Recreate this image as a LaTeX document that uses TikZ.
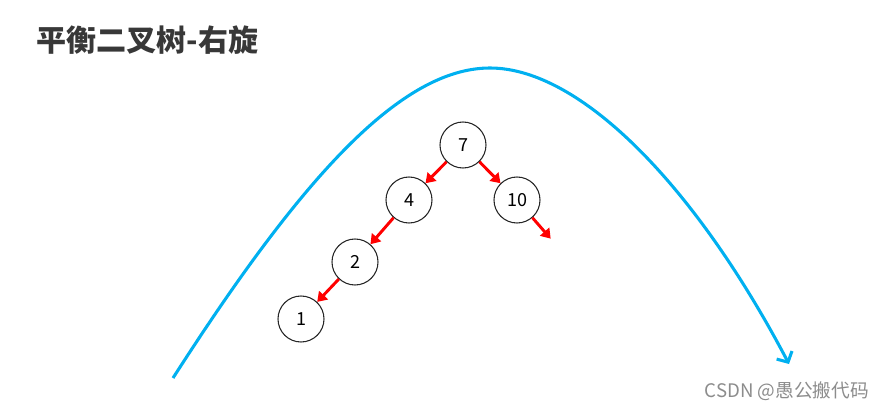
\documentclass[tikz,border=0pt]{standalone}
\usepackage{fontspec}
\setmainfont{Noto Sans CJK SC}
\usetikzlibrary{arrows.meta}
\definecolor{swing}{RGB}{0,176,240}
\begin{document}
\begin{tikzpicture}[
        x=0.75pt, y=-0.75pt,
        vertex/.style={draw=black!85, circle, minimum size=34.5pt, inner sep=0pt, text centered, line width=0.8pt, font=\fontsize{13.5}{15}\selectfont},
        invis/.style={draw=none, circle, minimum size=46pt},
        title/.style={anchor=west, text=black!78, font=\fontsize{22.5}{26}\selectfont\bfseries},
        wm/.style={anchor=west, text=black!45, font=\fontsize{14}{16}\selectfont},
        edge from parent/.style={draw, red, line width=2.2pt, -{Triangle[length=7pt,width=9pt]}},
        level 1/.style={level distance=41.25pt},
        level 2/.style={level distance=46.5pt},
        level 3/.style={level distance=42.75pt},
        sibling distance=81pt,
    ]
    \useasboundingbox (0,0) rectangle (890,410);
    \node[title](head) at (32,40){平衡二叉树-右旋};
    \node[wm](sign) at (700,391){CSDN @愚公搬代码};
    % rotation path
    \coordinate (from) at (173,378);
    \coordinate (top) at (490,68);
    \coordinate (to) at (789,364);
    \draw[swing, line width=2.3pt, -{Straight Barb[length=6pt,width=13pt]}]
        (from) .. controls (300,180) and (400,68) .. (top)
        .. controls (580,68) and (695,185) .. (to);
    % tree
    \node[vertex](7) at (463,145){7}
    child{node[vertex](4){4}
        child{node[vertex](2){2}
            child{node[vertex](1){1}}
            child[missing]
        }
        child[missing]
    }
    child{node[vertex](10){10}
        child[missing]
        child{node[invis](nil){}}
    }
    ;
\end{tikzpicture}
\end{document}
